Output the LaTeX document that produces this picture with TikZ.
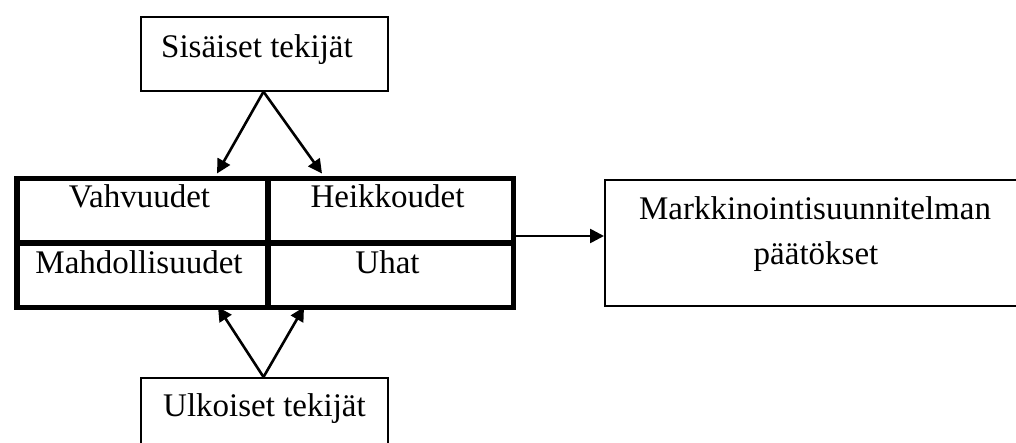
\documentclass[tikz,border=0pt]{standalone}
\usepackage{fontspec}
\setmainfont{Liberation Serif}
\usetikzlibrary{arrows.meta}
\begin{document}
\begin{tikzpicture}[x=1pt,y=-1pt,
  box/.style={draw, line width=1.7pt, inner sep=0pt, anchor=north west},
  cell/.style={draw, line width=5.5pt, line join=miter, inner sep=0pt, anchor=north west},
  lbl/.style={font=\fontsize{33}{40}\selectfont, inner sep=0pt},
  arr/.style={line width=2.6pt, -{Triangle[length=14pt,width=14pt]}}]
\clip (0,0) rectangle (1016,443);
\fill[white] (0,0) rectangle (1016,443);
% boxes
\node[box, minimum width=247pt, minimum height=74pt] (sis) at (140,16) {};
\node[box, minimum width=247pt, minimum height=90pt] (ulk) at (140,377) {};
\node[box, minimum width=420pt, minimum height=126pt] (mark) at (604,179) {};
% table cells
\node[cell, minimum width=251pt, minimum height=64.5pt] (vahv) at (14,176) {};
\node[cell, minimum width=245.5pt, minimum height=64.5pt] (heik) at (265,176) {};
\node[cell, minimum width=251pt, minimum height=64pt] (mahd) at (14,240.5) {};
\node[cell, minimum width=245.5pt, minimum height=64pt] (uhat) at (265,240.5) {};
% labels
\node[lbl, anchor=base west] (tsis) at (161,58) {Sisäiset tekijät};
\node[lbl, anchor=base west] (tulk) at (163,416) {Ulkoiset tekijät};
\node[lbl, anchor=base] (tmark1) at (815,220) {Markkinointisuunnitelman};
\node[lbl, anchor=base] (tmark2) at (816,265) {päätökset};
\node[lbl, anchor=base] (tvahv) at (139.5,208) {Vahvuudet};
\node[lbl, anchor=base] (theik) at (387.5,208) {Heikkoudet};
\node[lbl, anchor=base] (tmahd) at (139,273) {Mahdollisuudet};
\node[lbl, anchor=base] (tuhat) at (387.5,273) {Uhat};
% connector end points
\coordinate (a1) at (217,173.5);
\coordinate (a2) at (322,173.5);
\coordinate (b1) at (218,307);
\coordinate (b2) at (304,307);
\coordinate (c0) at (513,236);
\coordinate (c1) at (604,236);
% arrows
\draw[arr] (sis.south -| 263.5,0) -- (a1);
\draw[arr] (sis.south -| 263.5,0) -- (a2);
\draw[arr] (ulk.north -| 263.5,0) -- (b1);
\draw[arr] (ulk.north -| 263.5,0) -- (b2);
\draw[arr] (c0) -- (c1);
\end{tikzpicture}
\end{document}
